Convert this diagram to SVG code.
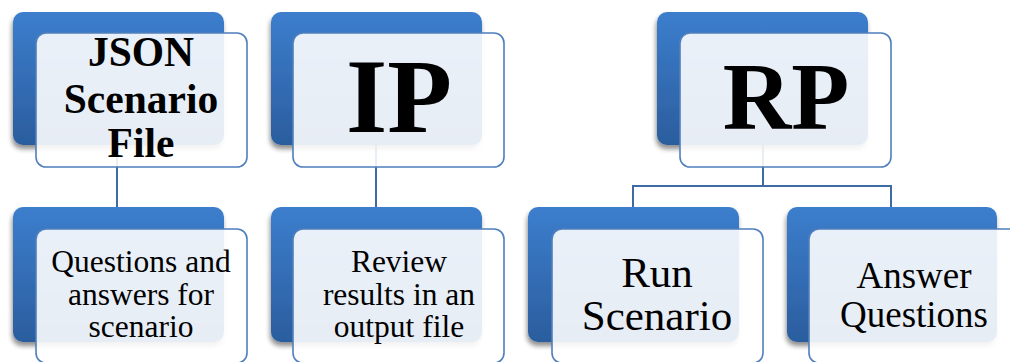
<svg xmlns="http://www.w3.org/2000/svg" width="1010" height="362" viewBox="0 0 1010 362">
  <defs>
    <linearGradient id="blueGrad" x1="0" y1="0" x2="0" y2="1">
      <stop offset="0" stop-color="#3c7ecd"/>
      <stop offset="1" stop-color="#2b5d9e"/>
    </linearGradient>
    <filter id="shadow" x="-10%" y="-10%" width="125%" height="130%">
      <feGaussianBlur in="SourceAlpha" stdDeviation="2.5"/>
      <feOffset dx="-1" dy="4" result="b"/>
      <feComponentTransfer><feFuncA type="linear" slope="0.45"/></feComponentTransfer>
      <feMerge><feMergeNode/><feMergeNode in="SourceGraphic"/></feMerge>
    </filter>
  </defs>
  <style>
    .back { fill: url(#blueGrad); filter: url(#shadow); }
    .front { fill: #ffffff; fill-opacity: 0.89; stroke: #4f7fbc; stroke-width: 1.6; }
    .conn { stroke: #3e6aa6; stroke-width: 2; fill: none; }
    .bold { font-family: "Liberation Serif", "Times New Roman", serif; font-weight: bold; fill: #000; text-anchor: middle; }
    .reg { font-family: "Liberation Serif", "Times New Roman", serif; fill: #000; text-anchor: middle; }
  </style>

  <g id="connectors">
    <path class="conn" d="M117 145 V207"/>
    <path class="conn" d="M376 145 V207"/>
    <path class="conn" d="M763 145 V186 M633 207 V186 H891 V207"/>
  </g>

  <g id="node-json">
    <rect class="back" x="13" y="12" width="211" height="133" rx="10"/>
    <rect class="front" x="36" y="33" width="211" height="134" rx="10"/>
    <text class="bold" x="141" y="66" font-size="41.5">JSON</text>
    <text class="bold" x="141" y="113" font-size="41.5">Scenario</text>
    <text class="bold" x="141" y="157" font-size="41.5">File</text>
  </g>

  <g id="node-ip">
    <rect class="back" x="271" y="12" width="211" height="133" rx="10"/>
    <rect class="front" x="293" y="33" width="211" height="134" rx="10"/>
    <text class="bold" x="399" y="132" font-size="106">IP</text>
  </g>

  <g id="node-rp">
    <rect class="back" x="657" y="12" width="211" height="133" rx="10"/>
    <rect class="front" x="680" y="33" width="211" height="134" rx="10"/>
    <text class="bold" x="786" y="129" font-size="95">RP</text>
  </g>

  <g id="node-questions">
    <rect class="back" x="13" y="207" width="211" height="135" rx="10"/>
    <rect class="front" x="36" y="229" width="211" height="134" rx="10"/>
    <text class="reg" x="141" y="272" font-size="31.5">Questions and</text>
    <text class="reg" x="141" y="305" font-size="31.5">answers for</text>
    <text class="reg" x="141" y="337" font-size="31.5">scenario</text>
  </g>

  <g id="node-review">
    <rect class="back" x="271" y="207" width="211" height="135" rx="10"/>
    <rect class="front" x="293" y="229" width="211" height="134" rx="10"/>
    <text class="reg" x="399" y="272" font-size="31.5">Review</text>
    <text class="reg" x="399" y="305" font-size="31.5">results in an</text>
    <text class="reg" x="399" y="337" font-size="31.5">output file</text>
  </g>

  <g id="node-run">
    <rect class="back" x="528" y="207" width="211" height="135" rx="10"/>
    <rect class="front" x="552" y="229" width="211" height="134" rx="10"/>
    <text class="reg" x="657" y="287" font-size="43">Run</text>
    <text class="reg" x="657" y="330" font-size="43">Scenario</text>
  </g>

  <g id="node-answer">
    <rect class="back" x="787" y="207" width="210" height="135" rx="10"/>
    <rect class="front" x="809" y="229" width="211" height="134" rx="10"/>
    <text class="reg" x="914" y="288" font-size="37">Answer</text>
    <text class="reg" x="914" y="327" font-size="37">Questions</text>
  </g>
</svg>
